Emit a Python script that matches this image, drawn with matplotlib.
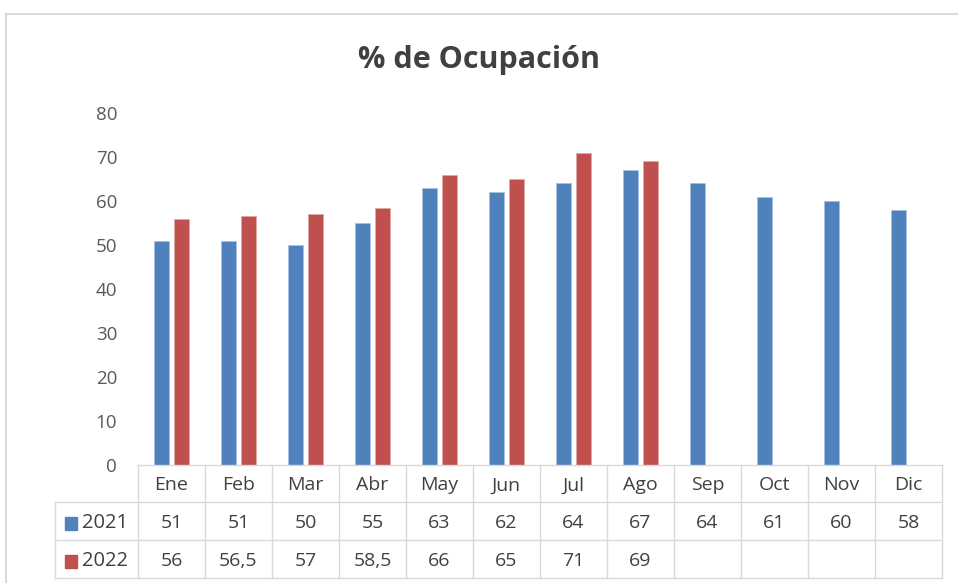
import matplotlib.pyplot as plt
import matplotlib.transforms as mtransforms
from matplotlib.lines import Line2D
from matplotlib.patches import Rectangle
import numpy as np

plt.rcParams['font.family'] = ['Open Sans', 'DejaVu Sans']

meses = ['Ene', 'Feb', 'Mar', 'Abr', 'May', 'Jun', 'Jul', 'Ago', 'Sep', 'Oct', 'Nov', 'Dic']
ocup_2021 = [51, 51, 50, 55, 63, 62, 64, 67, 64, 61, 60, 58]
ocup_2022 = [56, 56.5, 57, 58.5, 66, 65, 71, 69]
series = ['2021', '2022']
colores = ['#4F81BD', '#C0504D']
titulo = '% de Ocupación'


def fmt(v):
    if float(v).is_integer():
        return str(int(v))
    return str(v).replace('.', ',')


W, H = 958, 583
fig = plt.figure(figsize=(W / 100, H / 100), dpi=100)


def fy(ypix):
    return 1 - ypix / H


def fx(xpix):
    return xpix / W


# plot area
x0, x1, ytop, ybot = 138, 942, 113, 465
ax = fig.add_axes([fx(x0), fy(ybot), fx(x1) - fx(x0), fy(ytop) - fy(ybot)])
n = len(meses)
x = np.arange(n)
bw = 0.225
ax.bar(x - 0.145, ocup_2021, bw, color=colores[0], edgecolor='#A9C0E0', linewidth=0.6)
ax.bar(x[:len(ocup_2022)] + 0.145, ocup_2022, bw, color=colores[1], edgecolor='#E0A8A6', linewidth=0.6)
ax.set_xlim(-0.5, n - 0.5)
ax.set_ylim(0, 80)
ax.set_yticks(range(0, 81, 10))
ax.tick_params(axis='y', length=0, pad=15, labelsize=13.5, labelcolor='#595959')
ax.set_xticks([])
for s in ax.spines.values():
    s.set_visible(False)

# chart frame
grid_c = '#D9D9D9'
fig.add_artist(Line2D([fx(6), 1], [fy(14), fy(14)], color=grid_c, lw=1.5))
fig.add_artist(Line2D([fx(6), fx(6)], [fy(14), 0], color=grid_c, lw=1.5))

fig.text(0.5, fy(60), titulo, ha='center', va='center', fontsize=22,
         fontweight='bold', color='#404040')

# data table
tr = mtransforms.blended_transform_factory(ax.transData, fig.transFigure)
rows = [465, 502, 540, 578]
xl = -0.5 - (x0 - 55) / ((x1 - x0) / n)
tc = '#404040'
ax.add_line(Line2D([-0.5, n - 0.5], [fy(rows[0])] * 2, color=grid_c, lw=1,
                   transform=tr, clip_on=False))
for r in rows[1:]:
    ax.add_line(Line2D([xl, n - 0.5], [fy(r)] * 2, color=grid_c, lw=1,
                       transform=tr, clip_on=False))
for b in np.arange(n + 1) - 0.5:
    ax.add_line(Line2D([b, b], [fy(rows[0]), fy(rows[3])], color=grid_c, lw=1,
                       transform=tr, clip_on=False))
ax.add_line(Line2D([xl, xl], [fy(rows[1]), fy(rows[3])], color=grid_c, lw=1,
                   transform=tr, clip_on=False))

fs = 14
for i, m in enumerate(meses):
    ax.text(i, fy((rows[0] + rows[1]) / 2 + 2), m, ha='center', va='center',
            fontsize=fs, color=tc, transform=tr)
for k, vals in enumerate([ocup_2021, ocup_2022]):
    yc = fy((rows[k + 1] + rows[k + 2]) / 2 + 2)
    for i, v in enumerate(vals):
        ax.text(i, yc, fmt(v), ha='center', va='center', fontsize=fs,
                color=tc, transform=tr)
    fig.add_artist(Rectangle((fx(65), yc - 6.5 / H), 12 / W, 13 / H,
                             color=colores[k], transform=fig.transFigure))
    fig.text(fx(82), yc, series[k], ha='left', va='center', fontsize=14.5, color=tc)

fig.savefig('out.png', dpi=100)
